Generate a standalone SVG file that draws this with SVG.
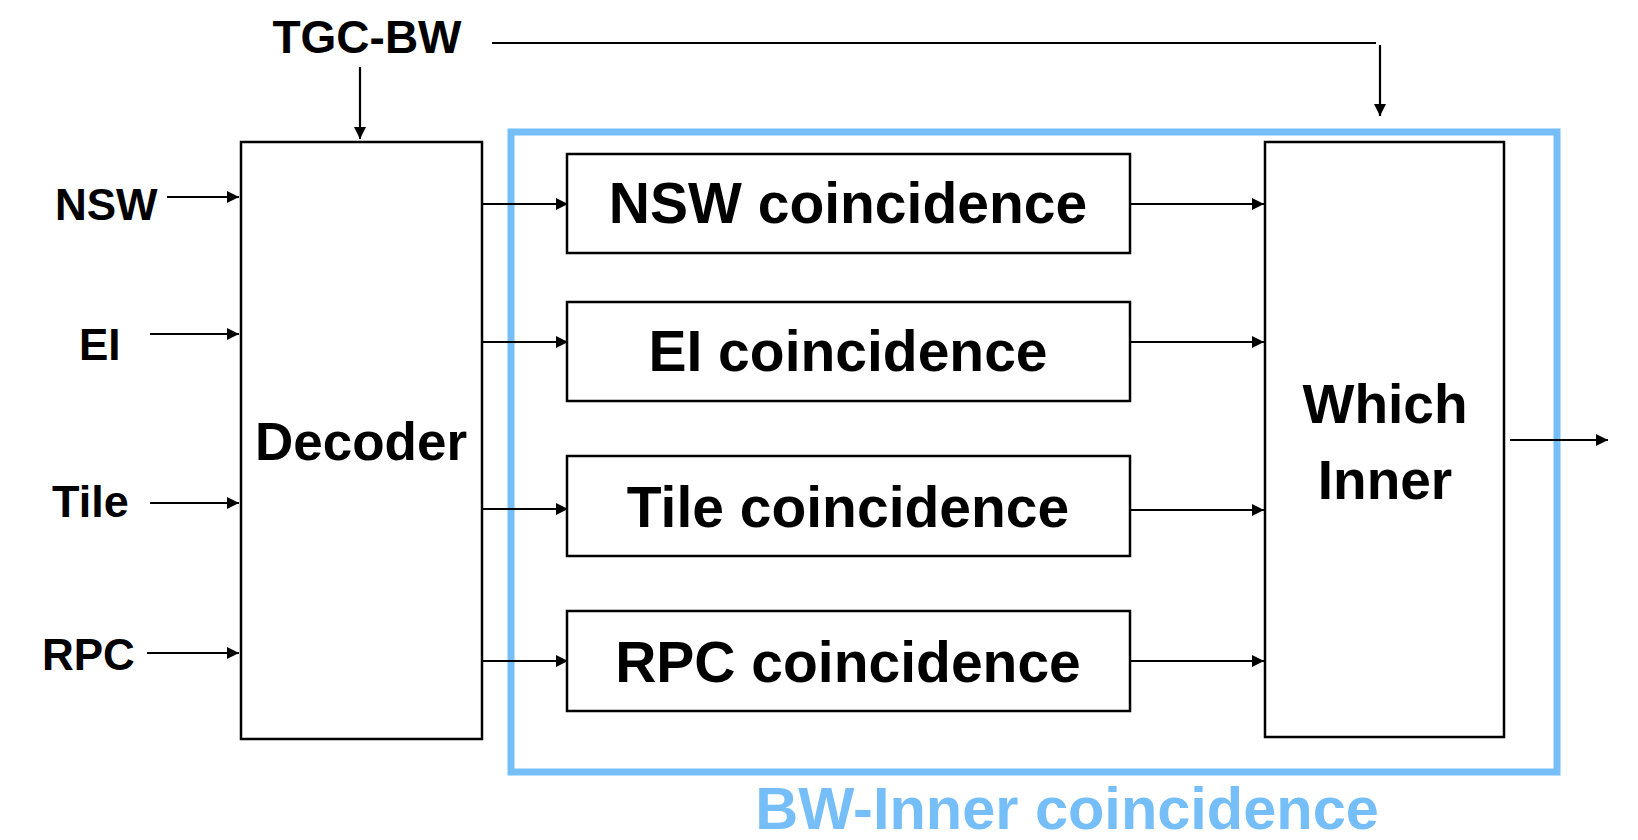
<svg xmlns="http://www.w3.org/2000/svg" width="1638" height="840" viewBox="0 0 1638 840">
<defs>
<style>
.box{fill:#fff;stroke:#000;stroke-width:2.5}
.lbl{font-family:"Liberation Sans",Arial,sans-serif;font-weight:bold;fill:#000}
.conn{fill:none;stroke:#000;stroke-width:2.2}
</style>
<marker id="ah" markerUnits="userSpaceOnUse" markerWidth="14" markerHeight="14" refX="12" refY="6" orient="auto">
<path d="M0,0 L12,6 L0,12 Z" fill="#000"/>
</marker>
</defs>
<rect width="1638" height="840" fill="#fff"/>

<g id="bw-inner">
<rect x="511" y="132" width="1046" height="640" fill="none" stroke="#75BEF8" stroke-width="7"/>
<text x="1067" y="829" text-anchor="middle" font-family="Liberation Sans,Arial,sans-serif" font-weight="bold" font-size="59.5" fill="#75BEF8">BW-Inner coincidence</text>
</g>

<g id="tgc-bw"><text class="lbl" x="367" y="53" text-anchor="middle" font-size="46">TGC-BW</text></g>
<g id="in-nsw"><text class="lbl" x="55" y="220" font-size="44">NSW</text></g>
<g id="in-ei"><text class="lbl" x="79" y="360" font-size="44">EI</text></g>
<g id="in-tile"><text class="lbl" x="52" y="517" font-size="45">Tile</text></g>
<g id="in-rpc"><text class="lbl" x="42" y="670" font-size="44">RPC</text></g>

<g id="decoder">
<rect class="box" x="241" y="142" width="241" height="597"/>
<text class="lbl" x="361" y="460" text-anchor="middle" font-size="53">Decoder</text>
</g>

<g id="nsw-coin">
<rect class="box" x="567" y="154" width="563" height="99"/>
<text class="lbl" x="848" y="223" text-anchor="middle" font-size="57">NSW coincidence</text>
</g>
<g id="ei-coin">
<rect class="box" x="567" y="302" width="563" height="99"/>
<text class="lbl" x="848" y="371" text-anchor="middle" font-size="57">EI coincidence</text>
</g>
<g id="tile-coin">
<rect class="box" x="567" y="456" width="563" height="100"/>
<text class="lbl" x="848" y="527" text-anchor="middle" font-size="57">Tile coincidence</text>
</g>
<g id="rpc-coin">
<rect class="box" x="567" y="611" width="563" height="100"/>
<text class="lbl" x="848" y="682" text-anchor="middle" font-size="57">RPC coincidence</text>
</g>

<g id="which-inner">
<rect class="box" x="1265" y="142" width="239" height="595"/>
<text class="lbl" x="1385" y="423" text-anchor="middle" font-size="55">Which</text>
<text class="lbl" x="1385" y="499" text-anchor="middle" font-size="55">Inner</text>
</g>

<g id="connectors">
<line class="conn" x1="360" y1="67" x2="360" y2="139" marker-end="url(#ah)"/>
<line class="conn" x1="492" y1="43" x2="1376" y2="43"/>
<line class="conn" x1="1380" y1="45" x2="1380" y2="116" marker-end="url(#ah)"/>
<line class="conn" x1="167" y1="197" x2="239" y2="197" marker-end="url(#ah)"/>
<line class="conn" x1="150" y1="334" x2="239" y2="334" marker-end="url(#ah)"/>
<line class="conn" x1="150" y1="503" x2="239" y2="503" marker-end="url(#ah)"/>
<line class="conn" x1="147" y1="653" x2="239" y2="653" marker-end="url(#ah)"/>
<line class="conn" x1="483" y1="204" x2="568" y2="204" marker-end="url(#ah)"/>
<line class="conn" x1="483" y1="342" x2="568" y2="342" marker-end="url(#ah)"/>
<line class="conn" x1="483" y1="509" x2="568" y2="509" marker-end="url(#ah)"/>
<line class="conn" x1="483" y1="661" x2="568" y2="661" marker-end="url(#ah)"/>
<line class="conn" x1="1131" y1="204" x2="1264" y2="204" marker-end="url(#ah)"/>
<line class="conn" x1="1131" y1="342" x2="1264" y2="342" marker-end="url(#ah)"/>
<line class="conn" x1="1131" y1="510" x2="1264" y2="510" marker-end="url(#ah)"/>
<line class="conn" x1="1131" y1="661" x2="1264" y2="661" marker-end="url(#ah)"/>
<line class="conn" x1="1510" y1="440" x2="1608" y2="440" marker-end="url(#ah)"/>
</g>
</svg>
